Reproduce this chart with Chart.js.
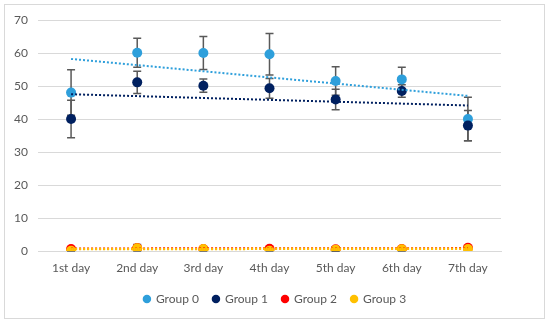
<!DOCTYPE html>
<html>
<head>
<meta charset="utf-8">
<script src="https://cdn.jsdelivr.net/npm/chart.js@4"></script>
<style>
  body { margin: 0; background: #fff; }
  #wrap { position: relative; width: 550px; height: 324px; }
  #frame { position: absolute; left: 4px; top: 4px; width: 539px; height: 313px; border: 1px solid #d9d9d9; }
  canvas { position: absolute; left: 0; top: 0; }
</style>
</head>
<body>
<div id="wrap">
  <div id="frame"></div>
  <canvas id="chart" width="550" height="324"></canvas>
</div>
<script>
const days = ['1st day', '2nd day', '3rd day', '4th day', '5th day', '6th day', '7th day'];

// means per group
const group0 = [48.0, 60.1, 60.0, 59.6, 51.5, 52.0, 40.0];
const group1 = [40.0, 51.1, 50.1, 49.3, 45.9, 48.5, 38.0];
const group2 = [0.6, 0.9, 0.6, 0.7, 0.5, 0.6, 1.0];
const group3 = [0.1, 0.8, 0.6, 0.1, 0.4, 0.5, 0.6];

// error bar half-widths (+/-)
const err0 = [6.9, 4.4, 5.0, 6.3, 4.3, 3.7, 6.6];
const err1 = [5.7, 3.4, 2.0, 3.0, 3.1, 1.9, 4.6];
const err2 = [0.4, 0.6, 0.3, 0.3, 0.8, 0.4, 0.5];
const err3 = [0.3, 1.2, 0.6, 0.3, 0.9, 0.5, 0.3];

// linear trendlines, start and end
const trend0 = [58.2, null, null, null, null, null, 47.0];
const trend1 = [47.5, null, null, null, null, null, 44.1];
const trend2 = [0.7, null, null, null, null, null, 0.8];
const trend3 = [0.6, null, null, null, null, null, 0.7];

const colors = ['#2e9fdb', '#002060', '#ff0000', '#ffc000'];
const FONT = 'Lato';

const errorBars = {
  id: 'errorBars',
  beforeDatasetsDraw(chart) {
    const { ctx, scales: { x, y } } = chart;
    ctx.save();
    ctx.strokeStyle = '#595959';
    ctx.lineWidth = 1.5;
    chart.data.datasets.forEach((ds, i) => {
      if (!ds.errors) return;
      ds.data.forEach((v, j) => {
        const e = ds.errors[j];
        const px = x.getPixelForValue(j);
        const top = y.getPixelForValue(v + e);
        const bot = y.getPixelForValue(Math.max(v - e, 0));
        ctx.beginPath();
        ctx.moveTo(px, top); ctx.lineTo(px, bot);
        ctx.moveTo(px - 4, top); ctx.lineTo(px + 4, top);
        ctx.moveTo(px - 4, bot); ctx.lineTo(px + 4, bot);
        ctx.stroke();
      });
    });
    ctx.restore();
  }
};

function points(label, data, errors, color, order) {
  return {
    label, data, errors, order,
    showLine: false,
    pointRadius: 5,
    pointHoverRadius: 5,
    pointBorderWidth: 0,
    backgroundColor: color,
    borderColor: color
  };
}

function trend(label, data, color, width, order) {
  return {
    label, data, order,
    spanGaps: true,
    pointRadius: 0,
    borderColor: color,
    borderWidth: width,
    borderDash: [2, 2],
    fill: false
  };
}

new Chart(document.getElementById('chart'), {
  type: 'line',
  data: {
    labels: days,
    datasets: [
      points('Group 0', group0, err0, colors[0], 10),
      points('Group 1', group1, err1, colors[1], 9),
      points('Group 2', group2, err2, colors[2], 8),
      points('Group 3', group3, err3, colors[3], 7),
      trend('Linear (Group 0)', trend0, colors[0], 2, 4),
      trend('Linear (Group 1)', trend1, colors[1], 2, 3),
      trend('Linear (Group 2)', trend2, colors[2], 2.5, 2),
      trend('Linear (Group 3)', trend3, colors[3], 2.5, 1)
    ]
  },
  options: {
    responsive: false,
    animation: false,
    layout: { padding: { top: 20, right: 0, left: 0, bottom: 9 } },
    scales: {
      x: {
        offset: true,
        grid: { display: false },
        border: { display: true, color: '#d9d9d9' },
        ticks: { color: '#595959', font: { family: FONT, size: 12 }, padding: 2 },
        afterFit(scale) { scale.height = 28; }
      },
      y: {
        min: 0, max: 70,
        grid: { color: '#d9d9d9', drawTicks: false },
        border: { display: false },
        ticks: { stepSize: 10, color: '#595959', font: { family: FONT, size: 12 }, padding: 10 },
        afterFit(scale) { scale.width = 38; }
      },
      // empty right-hand box that keeps the plot clear of the right edge
      gap: {
        position: 'right',
        grid: { display: false },
        border: { display: false },
        ticks: { display: false },
        afterFit(scale) { scale.width = 49; }
      }
    },
    plugins: {
      legend: {
        position: 'bottom',
        labels: {
          usePointStyle: true,
          pointStyle: 'circle',
          boxWidth: 6,
          boxHeight: 6,
          padding: 14,
          color: '#595959',
          font: { family: FONT, size: 12 },
          filter: item => item.datasetIndex < 4,
          sort: (a, b) => a.datasetIndex - b.datasetIndex
        }
      },
      tooltip: { enabled: false }
    }
  },
  plugins: [errorBars]
});
</script>
</body>
</html>
